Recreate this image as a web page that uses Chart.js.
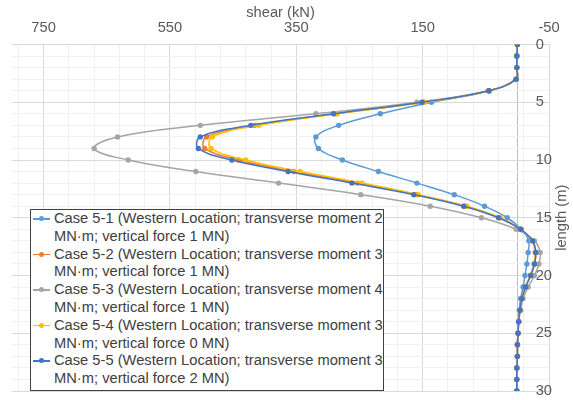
<!DOCTYPE html>
<html>
<head>
<meta charset="utf-8">
<script src="https://cdn.jsdelivr.net/npm/chart.js@4.4.1/dist/chart.umd.min.js"></script>
<style>
  body { margin: 0; background: #fff; }
  #wrap { position: relative; width: 573px; height: 400px; }
  #legend {
    position: absolute; left: 30px; top: 209px; width: 352px; height: 180px;
    background: #fff; border: 1px solid #404040;
    font: 14.7px "Liberation Sans", Arial, sans-serif; color: #404040;
    line-height: 17.8px;
  }
  .item { position: relative; padding-left: 23px; white-space: nowrap; }
  .mark { position: absolute; left: 2px; top: 8px; width: 17px; height: 1.5px; }
  .mark i { position: absolute; left: 6px; top: -2px; width: 5px; height: 5px; border-radius: 50%; }
</style>
</head>
<body>
<div id="wrap">
  <canvas id="c" width="573" height="400"></canvas>
  <div id="legend"></div>
</div>
<script>
const depths = [0, 1, 2, 3, 4, 5, 6, 7, 8, 9, 10, 11, 12, 13, 14, 15, 16, 17, 18, 19, 20, 21, 22, 23, 24, 25, 26, 27, 28, 29, 30];

const case51 = [0, 1, 1, 2, 45, 136, 217, 283, 319, 315, 277, 220, 159, 100, 52, 16, -6, -18, -17, -15, -12, -9, -5, -3, -2, -1, 0, 0, 1, 1, 1];
const case52 = [0, 1, 1, 2, 45, 149, 288, 416, 492, 495, 441, 354, 253, 159, 83, 28, -5, -24, -29, -27, -21, -13, -7, -4, -2, -1, 0, 0, 1, 1, 1];
const case53 = [0, 1, 1, 2, 46, 159, 319, 502, 633, 670, 616, 509, 378, 248, 138, 57, 2, -27, -36, -34, -27, -17, -9, -5, -2, -1, 0, 0, 1, 1, 1];
const case54 = [0, 1, 1, 2, 44, 147, 285, 409, 483, 485, 430, 344, 246, 157, 80, 27, -5, -23, -28, -26, -20, -13, -7, -4, -2, -1, 0, 0, 1, 1, 1];
const case55 = [0, 1, 1, 2, 45, 151, 291, 422, 502, 505, 452, 363, 262, 164, 85, 30, -5, -24, -29, -27, -21, -13, -7, -4, -2, -1, 0, 0, 1, 1, 1];

const seriesLabels = [
  ["Case 5-1 (Western Location; transverse moment 2", "MN·m; vertical force 1 MN)"],
  ["Case 5-2 (Western Location; transverse moment 3", "MN·m; vertical force 1 MN)"],
  ["Case 5-3 (Western Location; transverse moment 4", "MN·m; vertical force 1 MN)"],
  ["Case 5-4 (Western Location; transverse moment 3", "MN·m; vertical force 0 MN)"],
  ["Case 5-5 (Western Location; transverse moment 3", "MN·m; vertical force 2 MN)"],
];
const seriesColors = ["#5b9bd5", "#ed7d31", "#a5a5a5", "#ffc000", "#4472c4"];

const shearTicks = [750, 550, 350, 150, -50];
const lengthTicks = [0, 5, 10, 15, 20, 25, 30];

const FONT = { family: "'Liberation Sans', Arial, sans-serif", size: 14.7 };
const MAJOR = "#d9d9d9";
const MINOR = "#f0f0f0";

function toPoints(values) {
  return values.map((v, i) => ({ x: v, y: depths[i] }));
}

// drop the label overhang padding so the plot area follows the layout padding
function noOverhang(scale) {
  scale.paddingTop = 0;
  scale.paddingBottom = 0;
  scale.paddingLeft = 0;
  scale.paddingRight = 0;
}

const allValues = [case51, case52, case53, case54, case55];
const datasets = allValues.map((vals, i) => ({
  label: seriesLabels[i].join(" "),
  data: toPoints(vals),
  borderColor: seriesColors[i],
  backgroundColor: seriesColors[i],
  borderWidth: 1.5,
  pointRadius: 2.7,
  pointBorderWidth: 0,
  tension: 0.4,
  order: 5 - i,
}));

const yTitle = {
  id: "yTitle",
  afterDraw(chart) {
    const { ctx, chartArea } = chart;
    ctx.save();
    ctx.translate(562, (chartArea.top + chartArea.bottom) / 2);
    ctx.rotate(-Math.PI / 2);
    ctx.font = `${FONT.size}px ${FONT.family}`;
    ctx.fillStyle = "#595959";
    ctx.textAlign = "center";
    ctx.textBaseline = "middle";
    ctx.fillText("length (m)", 0, 0);
    ctx.restore();
  },
};

const chart = new Chart(document.getElementById("c"), {
  type: "line",
  data: { datasets },
  plugins: [yTitle],
  options: {
    responsive: false,
    animation: false,
    layout: { padding: { left: 12, right: 18, top: 0, bottom: 9 } },
    plugins: { legend: { display: false }, tooltip: { enabled: false } },
    scales: {
      x: {
        type: "linear",
        position: "top",
        reverse: true,
        min: -50,
        max: 800,
        afterBuildTicks: (scale) => {
          const t = [];
          for (let v = -50; v < 800; v += 40) t.push({ value: v });
          t.push({ value: 0 });
          scale.ticks = t.sort((a, b) => a.value - b.value);
        },
        afterFit: (scale) => {
          noOverhang(scale);
          scale.height = 44.5;
        },
        ticks: {
          autoSkip: false,
          maxRotation: 0,
          padding: 8,
          color: "#595959",
          font: FONT,
          callback: (v) => (shearTicks.includes(v) ? String(v) : ""),
        },
        grid: {
          drawTicks: false,
          color: (ctx) => {
            const v = ctx.tick && ctx.tick.value;
            if (v === 0) return "#bfbfbf";
            return shearTicks.includes(v) ? MAJOR : MINOR;
          },
        },
        border: { color: MAJOR },
        title: {
          display: true,
          text: "shear (kN)",
          color: "#595959",
          font: { ...FONT, lineHeight: 1 },
          padding: { top: 6, bottom: 0 },
        },
      },
      y: {
        type: "linear",
        position: "right",
        reverse: true,
        min: 0,
        max: 30,
        afterFit: noOverhang,
        ticks: {
          stepSize: 1,
          autoSkip: false,
          mirror: true,
          crossAlign: "far",
          padding: 3,
          color: "#595959",
          font: FONT,
          callback: (v) => (lengthTicks.includes(v) ? String(v) : ""),
        },
        grid: {
          drawTicks: false,
          color: (ctx) => (lengthTicks.includes(ctx.tick && ctx.tick.value) ? MAJOR : MINOR),
        },
        border: { color: MAJOR },
      },
    },
  },
});

const legend = document.getElementById("legend");
chart.data.datasets.forEach((ds, i) => {
  const item = document.createElement("div");
  item.className = "item";
  const mark = document.createElement("span");
  mark.className = "mark";
  mark.style.background = ds.borderColor;
  const dot = document.createElement("i");
  dot.style.background = ds.borderColor;
  mark.appendChild(dot);
  item.appendChild(mark);
  seriesLabels[i].forEach((line, j) => {
    if (j) item.appendChild(document.createElement("br"));
    item.appendChild(document.createTextNode(line));
  });
  legend.appendChild(item);
});
</script>
</body>
</html>
